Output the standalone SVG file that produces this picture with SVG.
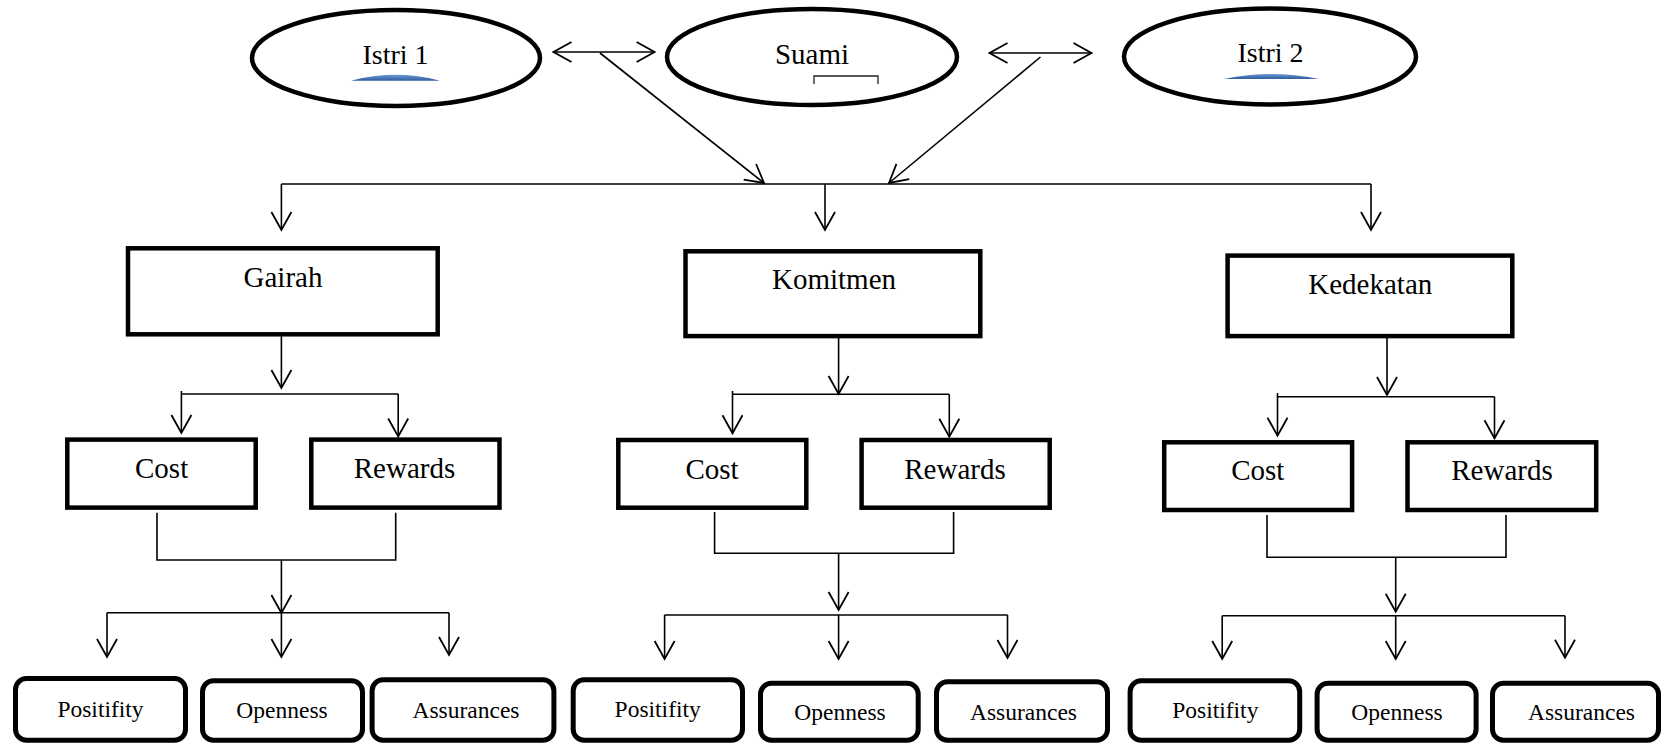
<svg xmlns="http://www.w3.org/2000/svg" width="1663" height="744" viewBox="0 0 1663 744">
<defs>
<style>
.ell{fill:#fff;stroke:#000;stroke-width:4.5}
.box{fill:#fff;stroke:#000;stroke-width:4.5}
.rbox{fill:#fff;stroke:#000;stroke-width:5}
.c{fill:none;stroke:#000;stroke-width:1.6}
.a{fill:none;stroke:#000;stroke-width:1.6;marker-end:url(#ah)}
.d{fill:none;stroke:#000;stroke-width:1.6;marker-start:url(#ah);marker-end:url(#ah)}
text{font-family:'Liberation Serif','DejaVu Serif',serif}
.t{font-size:29px;fill:#000;text-anchor:middle}
.s{font-size:23.5px;fill:#000;text-anchor:middle}
</style>
<marker id="ah" markerUnits="userSpaceOnUse" viewBox="-21 -12 23 24" refX="0" refY="0" markerWidth="23" markerHeight="24" orient="auto-start-reverse">
<path d="M-18,-10 L0,0 L-18,10" fill="none" stroke="#000" stroke-width="1.8"/>
</marker>
<linearGradient id="blue" x1="0" y1="0" x2="0" y2="1">
<stop offset="0" stop-color="#6b98d6"/>
<stop offset="1" stop-color="#2f5c9c"/>
</linearGradient>
</defs>

<g id="connectors">
<line class="d" x1="553.5" y1="52" x2="654.6" y2="52"/>
<line class="d" x1="989.5" y1="53" x2="1091.5" y2="53"/>
<line class="a" x1="600" y1="53" x2="764" y2="183"/>
<line class="a" x1="1040.5" y1="57" x2="889" y2="183"/>
<line class="c" x1="281.4" y1="184" x2="1371" y2="184"/>
<line class="a" x1="281.4" y1="184" x2="281.4" y2="230"/>
<line class="a" x1="825" y1="184" x2="825" y2="230"/>
<line class="a" x1="1371" y1="184" x2="1371" y2="230"/>

<line class="a" x1="281.4" y1="336" x2="281.4" y2="388"/>
<line class="c" x1="181.4" y1="394" x2="398.2" y2="394"/>
<line class="a" x1="181.4" y1="391" x2="181.4" y2="433"/>
<line class="a" x1="398.2" y1="394" x2="398.2" y2="436.5"/>
<path class="c" d="M157,512.7 V560 H395.7 V512.7"/>
<line class="a" x1="281.4" y1="560" x2="281.4" y2="613"/>
<line class="c" x1="107" y1="612.7" x2="449" y2="612.7"/>
<line class="a" x1="107" y1="612.7" x2="107" y2="657"/>
<line class="a" x1="281.4" y1="612.7" x2="281.4" y2="657"/>
<line class="a" x1="449" y1="612.7" x2="449" y2="655"/>

<line class="a" x1="838.6" y1="338" x2="838.6" y2="394"/>
<line class="c" x1="732.5" y1="394.3" x2="949.3" y2="394.3"/>
<line class="a" x1="732.5" y1="391" x2="732.5" y2="433.3"/>
<line class="a" x1="949.3" y1="394.3" x2="949.3" y2="436.7"/>
<path class="c" d="M714.6,512 V553.3 H953.6 V512"/>
<line class="a" x1="838.6" y1="553.3" x2="838.6" y2="610"/>
<line class="c" x1="664.6" y1="615" x2="1007.5" y2="615"/>
<line class="a" x1="664.6" y1="615" x2="664.6" y2="659"/>
<line class="a" x1="838.6" y1="615" x2="838.6" y2="659"/>
<line class="a" x1="1007.5" y1="615" x2="1007.5" y2="658"/>

<line class="a" x1="1387" y1="338" x2="1387" y2="395"/>
<line class="c" x1="1277.5" y1="396.7" x2="1494.5" y2="396.7"/>
<line class="a" x1="1277.5" y1="393" x2="1277.5" y2="435.7"/>
<line class="a" x1="1494.5" y1="396.7" x2="1494.5" y2="438.3"/>
<path class="c" d="M1267,515 V557.3 H1506 V515"/>
<line class="a" x1="1395.7" y1="557.3" x2="1395.7" y2="611.7"/>
<line class="c" x1="1222.2" y1="615.7" x2="1565" y2="615.7"/>
<line class="a" x1="1222.2" y1="615.7" x2="1222.2" y2="659"/>
<line class="a" x1="1395.7" y1="615.7" x2="1395.7" y2="659"/>
<line class="a" x1="1565" y1="615.7" x2="1565" y2="657.7"/>
</g>

<g id="istri1">
<ellipse class="ell" cx="396" cy="58" rx="144" ry="48"/>
<text class="t" x="395.5" y="64" font-family="Liberation Serif, serif" style="font-size:28px">Istri 1</text>
<path d="M351,80.7 Q395.5,69 440,80.7 Z" fill="url(#blue)"/>
</g>
<g id="suami">
<ellipse class="ell" cx="812" cy="57" rx="145" ry="48"/>
<text class="t" x="812" y="64" font-family="Liberation Serif, serif">Suami</text>
<path d="M814,84 V76 H878 V84" fill="none" stroke="#222" stroke-width="1.3"/>
</g>
<g id="istri2">
<ellipse class="ell" cx="1270" cy="56.5" rx="146" ry="48"/>
<text class="t" x="1270.5" y="62" font-family="Liberation Serif, serif" style="font-size:28px">Istri 2</text>
<path d="M1224,79 Q1271,69 1318.6,79 Z" fill="url(#blue)"/>
</g>

<g id="gairah">
<rect class="box" x="128" y="248.3" width="309.7" height="86"/>
<text class="t" x="283" y="287" font-family="Liberation Serif, serif">Gairah</text>
</g>
<g id="komitmen">
<rect class="box" x="685.5" y="251.3" width="294.8" height="84.8"/>
<text class="t" x="834" y="289" font-family="Liberation Serif, serif">Komitmen</text>
</g>
<g id="kedekatan">
<rect class="box" x="1227.6" y="255.6" width="284.7" height="80.5"/>
<text class="t" x="1370.3" y="294" font-family="Liberation Serif, serif">Kedekatan</text>
</g>

<g id="cost1"><rect class="box" x="67.3" y="439.6" width="188.4" height="68"/><text class="t" x="161.6" y="478.3" font-family="Liberation Serif, serif">Cost</text></g>
<g id="rewards1"><rect class="box" x="311.3" y="439.6" width="188.2" height="68"/><text class="t" x="404.5" y="478.3" font-family="Liberation Serif, serif">Rewards</text></g>
<g id="cost2"><rect class="box" x="618.3" y="440" width="188" height="67.7"/><text class="t" x="712" y="479" font-family="Liberation Serif, serif">Cost</text></g>
<g id="rewards2"><rect class="box" x="861.6" y="440" width="188.1" height="67.7"/><text class="t" x="955" y="479" font-family="Liberation Serif, serif">Rewards</text></g>
<g id="cost3"><rect class="box" x="1164.2" y="442.3" width="187.9" height="67.7"/><text class="t" x="1257.8" y="480" font-family="Liberation Serif, serif">Cost</text></g>
<g id="rewards3"><rect class="box" x="1407.5" y="442.3" width="188.7" height="67.7"/><text class="t" x="1502" y="480" font-family="Liberation Serif, serif">Rewards</text></g>

<g id="positifity1"><rect class="rbox" x="15.5" y="678.5" width="170" height="61.7" rx="11"/><text class="s" x="100.5" y="716.7" font-family="Liberation Serif, serif">Positifity</text></g>
<g id="openness1"><rect class="rbox" x="202.5" y="680.8" width="160" height="59.5" rx="11"/><text class="s" x="282" y="718.3" font-family="Liberation Serif, serif">Openness</text></g>
<g id="assurances1"><rect class="rbox" x="372.1" y="679.8" width="181.8" height="60.5" rx="11"/><text class="s" x="466" y="718" font-family="Liberation Serif, serif">Assurances</text></g>

<g id="positifity2"><rect class="rbox" x="573.2" y="679.8" width="169.3" height="60.5" rx="11"/><text class="s" x="657.7" y="717.3" font-family="Liberation Serif, serif">Positifity</text></g>
<g id="openness2"><rect class="rbox" x="760.5" y="683.2" width="157.7" height="57" rx="11"/><text class="s" x="840" y="720" font-family="Liberation Serif, serif">Openness</text></g>
<g id="assurances2"><rect class="rbox" x="936.5" y="681.8" width="171" height="58.5" rx="11"/><text class="s" x="1023.5" y="720" font-family="Liberation Serif, serif">Assurances</text></g>

<g id="positifity3"><rect class="rbox" x="1130.1" y="680.8" width="169.6" height="59.5" rx="11"/><text class="s" x="1215.3" y="718.3" font-family="Liberation Serif, serif">Positifity</text></g>
<g id="openness3"><rect class="rbox" x="1317.1" y="683.2" width="159" height="57" rx="11"/><text class="s" x="1397" y="720" font-family="Liberation Serif, serif">Openness</text></g>
<g id="assurances3"><rect class="rbox" x="1492.5" y="683.2" width="166" height="57" rx="11"/><text class="s" x="1581.5" y="720" font-family="Liberation Serif, serif">Assurances</text></g>
</svg>
